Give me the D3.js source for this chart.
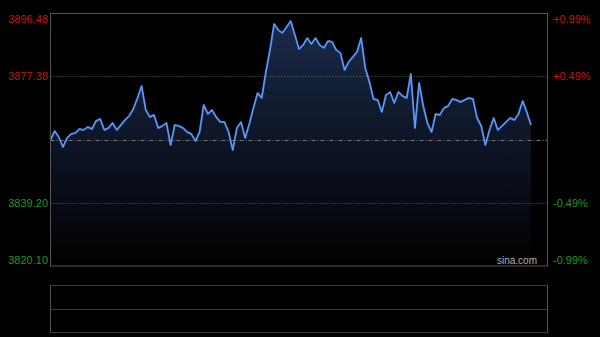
<!DOCTYPE html>
<html>
<head>
<meta charset="utf-8">
<script src="https://cdn.jsdelivr.net/npm/d3@7"></script>
<style>
  html, body { margin: 0; padding: 0; background: #000; }
  svg { display: block; }
</style>
</head>
<body>
<div id="chart"></div>
<script>
// intraday index, one reading every 2 minutes from 9:30
var prevClose = 3858.29;
var priceTicks = [3896.48, 3877.38, 3839.20, 3820.10];
var pctTicks = ['+0.99%', '+0.49%', '-0.49%', '-0.99%'];
var prices = [
  3858.14, 3860.86, 3859.04, 3856.03, 3858.74, 3859.95, 3860.25, 3861.46, 3861.16, 3862.06,
  3861.46, 3863.87, 3864.48, 3861.16, 3861.76, 3863.27, 3861.16, 3862.67, 3864.18, 3865.38,
  3867.50, 3870.82, 3874.44, 3867.20, 3865.08, 3865.69, 3861.76, 3862.37, 3863.27, 3856.63,
  3862.67, 3862.37, 3861.76, 3860.55, 3859.95, 3857.84, 3860.55, 3868.71, 3865.99, 3867.20,
  3865.08, 3863.57, 3863.57, 3860.55, 3855.12, 3861.76, 3863.57, 3858.74, 3862.97, 3867.80,
  3872.33, 3870.82, 3878.67, 3885.31, 3893.16, 3891.35, 3890.44, 3892.25, 3894.06, 3889.84,
  3885.61, 3886.82, 3888.93, 3887.12, 3888.93, 3886.82, 3885.91, 3888.03, 3887.72, 3885.31,
  3884.40, 3879.27, 3881.69, 3883.20, 3884.71, 3888.93, 3879.88, 3875.65, 3870.52, 3870.21,
  3866.59, 3871.72, 3872.63, 3869.31, 3872.63, 3871.42, 3870.82, 3878.06, 3861.76, 3875.35,
  3868.40, 3863.27, 3860.55, 3865.99, 3865.69, 3867.80, 3868.40, 3870.52, 3870.21, 3869.61,
  3870.21, 3870.82, 3870.52, 3864.78, 3862.37, 3856.63, 3861.16, 3864.78, 3861.16, 3862.37,
  3863.57, 3864.78, 3864.18, 3865.99, 3869.91, 3866.59, 3862.67
];
var minutes = prices.map(function(d, i) { return i * 2; });

var width = 600, height = 337;
var plot = { left: 50.5, right: 547.5, top: 13.5, bottom: 266 };
var vol = { top: 285.5, mid: 309.5, bottom: 332.5 };

var svg = d3.select('#chart').append('svg')
  .attr('width', width)
  .attr('height', height)
  .style('background', '#000');

var x = d3.scaleLinear().domain([0, 240]).range([plot.left, plot.right]);
var y = d3.scaleLinear().domain([3820.10, 3896.48]).range([plot.bottom, plot.top - 0.5]);

var defs = svg.append('defs');
var grad = defs.append('linearGradient')
  .attr('id', 'fillGrad')
  .attr('gradientUnits', 'userSpaceOnUse')
  .attr('x1', 0).attr('x2', 0)
  .attr('y1', plot.top).attr('y2', plot.bottom);
grad.append('stop').attr('offset', '0%').attr('stop-color', '#1b2c4c');
grad.append('stop').attr('offset', '55%').attr('stop-color', '#0c1322');
grad.append('stop').attr('offset', '100%').attr('stop-color', '#000000');

// area + line
var area = d3.area()
  .x(function(d, i) { return x(minutes[i]); })
  .y0(plot.bottom)
  .y1(function(d) { return y(d); });
var line = d3.line()
  .x(function(d, i) { return x(minutes[i]); })
  .y(function(d) { return y(d); });

svg.append('path')
  .datum(prices)
  .attr('d', area)
  .attr('fill', 'url(#fillGrad)');

// grid lines
svg.selectAll('.grid')
  .data([priceTicks[1], priceTicks[2]])
  .enter().append('line')
  .attr('x1', plot.left).attr('x2', plot.right)
  .attr('y1', function(d) { return Math.round(y(d)) + 0.5; })
  .attr('y2', function(d) { return Math.round(y(d)) + 0.5; })
  .attr('stroke', '#666')
  .attr('stroke-width', 1)
  .attr('stroke-dasharray', '1,2');

svg.append('line')
  .attr('x1', plot.left).attr('x2', plot.right)
  .attr('y1', Math.round(y(prevClose)) + 0.5)
  .attr('y2', Math.round(y(prevClose)) + 0.5)
  .attr('stroke', '#777')
  .attr('stroke-width', 1)
  .attr('stroke-dasharray', '4,2,1,2');

svg.append('path')
  .datum(prices)
  .attr('d', line)
  .attr('fill', 'none')
  .attr('stroke', '#3f7ad6')
  .attr('stroke-width', 2)
  .attr('stroke-linejoin', 'round');
svg.append('path')
  .datum(prices)
  .attr('d', line)
  .attr('fill', 'none')
  .attr('stroke', '#6fa6f5')
  .attr('stroke-width', 0.8)
  .attr('stroke-linejoin', 'round');

// frame
svg.append('rect')
  .attr('x', plot.left).attr('y', plot.top)
  .attr('width', plot.right - plot.left)
  .attr('height', plot.bottom - plot.top)
  .attr('fill', 'none')
  .attr('stroke', '#555')
  .attr('stroke-width', 1);

// labels
var labelY = function(d, i) {
  var v = y(d);
  if (i === 0) return v + 6;
  if (i === priceTicks.length - 1) return v - 6;
  return v;
};
var labelColor = function(d) { return d > prevClose ? '#cc1111' : '#1a9c1a'; };

svg.selectAll('.lbl-left')
  .data(priceTicks)
  .enter().append('text')
  .attr('x', 48)
  .attr('y', labelY)
  .attr('dy', '0.35em')
  .attr('text-anchor', 'end')
  .attr('fill', labelColor)
  .style('font', '11px "Liberation Sans", Arial, sans-serif')
  .text(function(d) { return d.toFixed(2); });

svg.selectAll('.lbl-right')
  .data(priceTicks)
  .enter().append('text')
  .attr('x', 553)
  .attr('y', labelY)
  .attr('dy', '0.35em')
  .attr('text-anchor', 'start')
  .attr('fill', labelColor)
  .style('font', '11px "Liberation Sans", Arial, sans-serif')
  .text(function(d, i) { return pctTicks[i]; });

svg.append('text')
  .attr('x', 537)
  .attr('y', 264)
  .attr('text-anchor', 'end')
  .attr('fill', '#b0b0b0')
  .style('font', '10px "Liberation Sans", Arial, sans-serif')
  .text('sina.com');

// volume panel (empty)
svg.selectAll('.vgrid')
  .data([vol.top, vol.mid, vol.bottom])
  .enter().append('line')
  .attr('x1', plot.left).attr('x2', plot.right)
  .attr('y1', function(d) { return d; })
  .attr('y2', function(d) { return d; })
  .attr('stroke', '#777')
  .attr('stroke-width', 1)
  .attr('stroke-dasharray', '1,1');

svg.selectAll('.vside')
  .data([plot.left, plot.right])
  .enter().append('line')
  .attr('x1', function(d) { return d; })
  .attr('x2', function(d) { return d; })
  .attr('y1', vol.top).attr('y2', vol.bottom)
  .attr('stroke', '#555')
  .attr('stroke-width', 1);
</script>
</body>
</html>
